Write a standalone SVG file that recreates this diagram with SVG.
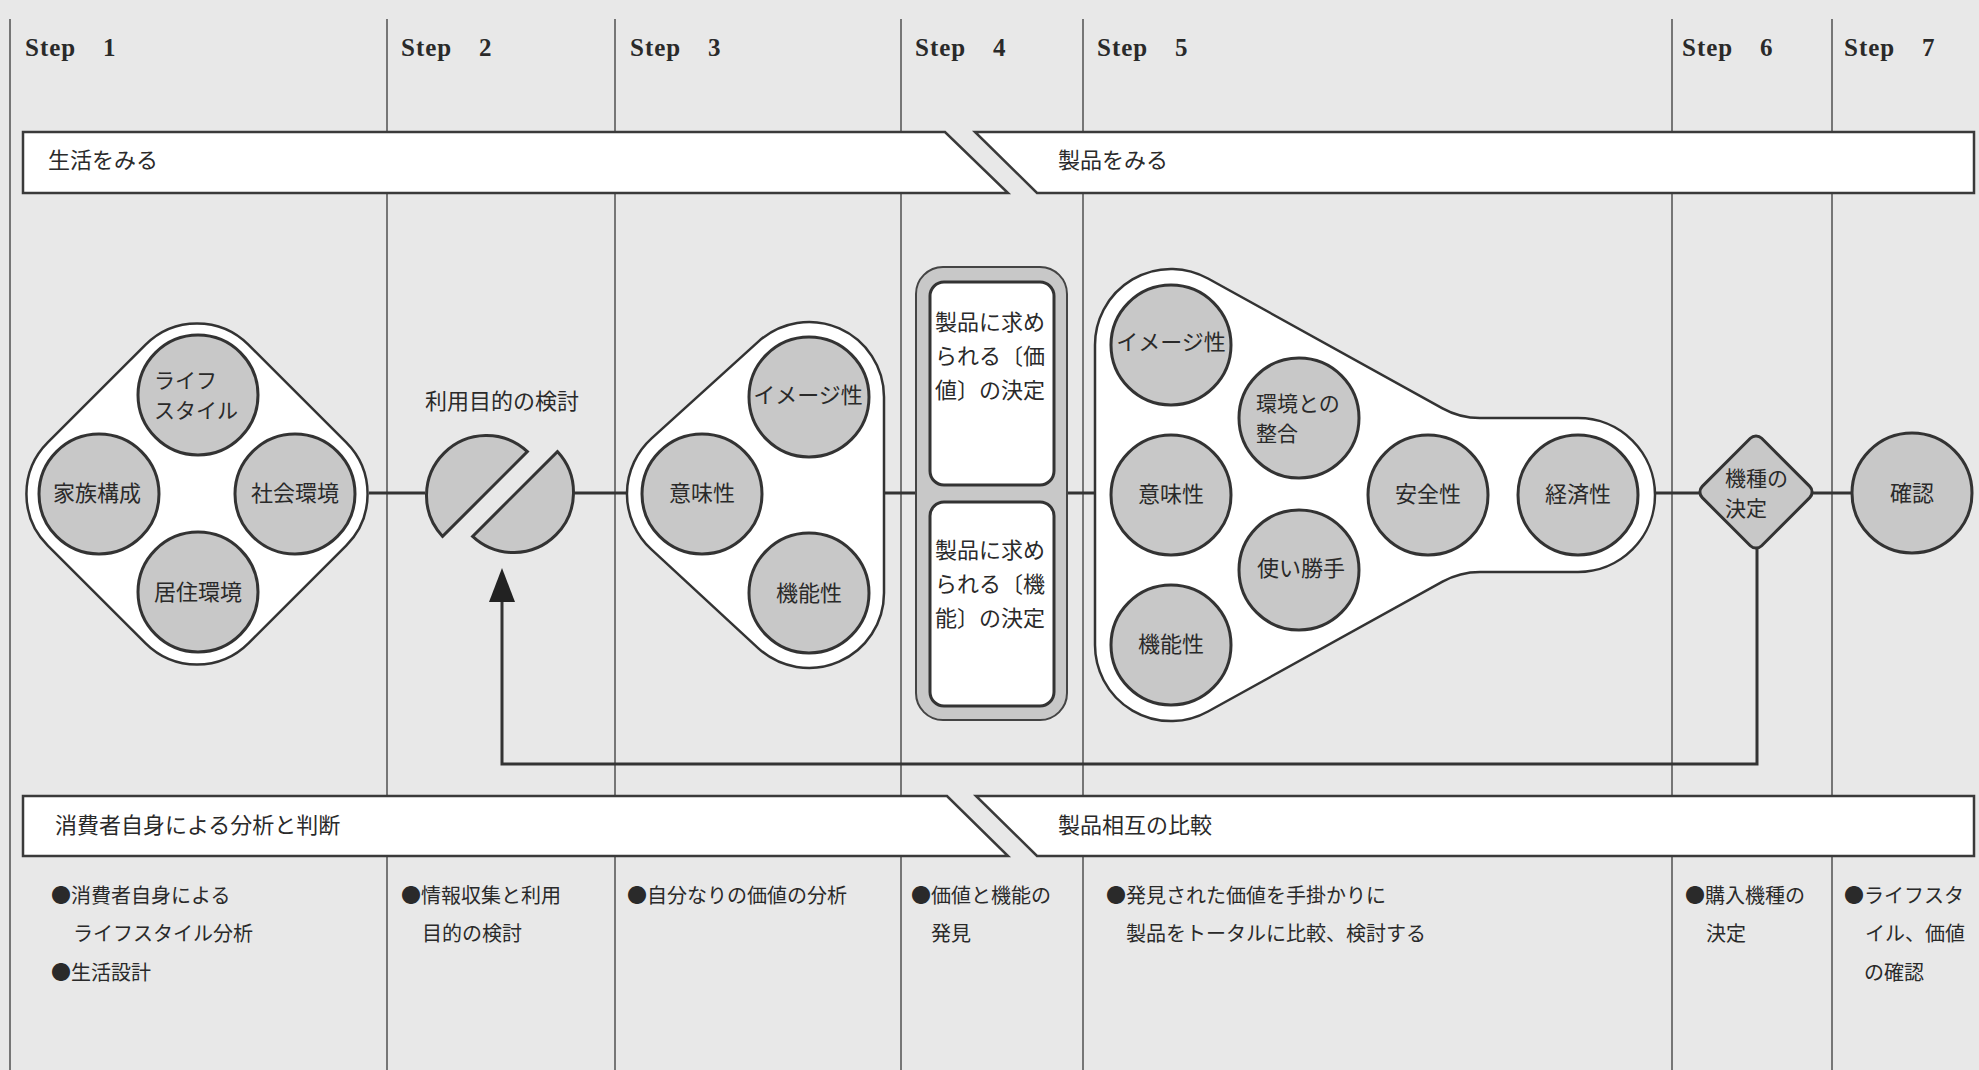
<svg xmlns="http://www.w3.org/2000/svg" width="1979" height="1070" viewBox="0 0 1979 1070">
<style>
.bg{fill:#e8e8e8}
.grid{stroke:#505050;stroke-width:1.5}
.band{fill:#fff;stroke:#3a3a3a;stroke-width:2.5}
.hull{fill:#fff;stroke:#333;stroke-width:2.5}
.c{fill:#c8c8c8;stroke:#333;stroke-width:3}
.t{font-family:'Noto Sans CJK JP','Noto Sans CJK SC',sans-serif;font-size:22px;fill:#2a2a2a}
.s{font-size:21px}
.m{text-anchor:middle}
.b{font-size:20px}
.step{font-family:'Liberation Serif','DejaVu Serif',serif;font-weight:bold;font-size:25px;letter-spacing:1px;fill:#2a2a2a}
.conn{fill:none;stroke:#333;stroke-width:3}
</style>
<defs>
<marker id="ah" markerUnits="userSpaceOnUse" markerWidth="34" markerHeight="26" viewBox="0 0 34 26" refX="0" refY="13" orient="auto">
<path d="M0 0 L34 13 L0 26 Z" fill="#222"/>
</marker>
</defs>
<rect class="bg" x="0" y="0" width="1979" height="1070"/>

<g id="grid">
<line class="grid" x1="10" y1="19" x2="10" y2="1070"/>
<line class="grid" x1="387" y1="19" x2="387" y2="1070"/>
<line class="grid" x1="615" y1="19" x2="615" y2="1070"/>
<line class="grid" x1="901" y1="19" x2="901" y2="1070"/>
<line class="grid" x1="1083" y1="19" x2="1083" y2="1070"/>
<line class="grid" x1="1672" y1="19" x2="1672" y2="1070"/>
<line class="grid" x1="1832" y1="19" x2="1832" y2="1070"/>
</g>

<g id="steps">
<text class="step" x="25" y="56">Step <tspan x="103">1</tspan></text>
<text class="step" x="401" y="56">Step <tspan x="479">2</tspan></text>
<text class="step" x="630" y="56">Step <tspan x="708">3</tspan></text>
<text class="step" x="915" y="56">Step <tspan x="993">4</tspan></text>
<text class="step" x="1097" y="56">Step <tspan x="1175">5</tspan></text>
<text class="step" x="1682" y="56">Step <tspan x="1760">6</tspan></text>
<text class="step" x="1844" y="56">Step <tspan x="1922">7</tspan></text>
</g>

<g id="band-top-life">
<path class="band" d="M23 132 H945 L1008 193 H23 Z"/>
<text class="t" x="48" y="168.4">生活をみる</text>
</g>
<g id="band-top-product">
<path class="band" d="M975 132 H1974 V193 H1037 Z"/>
<text class="t" x="1058" y="168.4">製品をみる</text>
</g>
<g id="band-bottom-self">
<path class="band" d="M23 796 H947 L1008 856 H23 Z"/>
<text class="t" x="55" y="833.4">消費者自身による分析と判断</text>
</g>
<g id="band-bottom-compare">
<path class="band" d="M976 796 H1974 V856 H1037 Z"/>
<text class="t" x="1058" y="833.4">製品相互の比較</text>
</g>

<g id="connectors">
<path class="conn" d="M369 493 H425"/>
<path class="conn" d="M575 493 H628"/>
<path class="conn" d="M884 493 H916"/>
<path class="conn" d="M1067 493 H1095"/>
<path class="conn" d="M1655 493 H1700"/>
<path class="conn" d="M1812 493 H1852"/>
<path class="conn" d="M1757 548 V764 H502 V602" marker-end="url(#ah)"/>
</g>

<g id="step1-life">
<rect class="hull" x="-142" y="-142" width="284" height="284" rx="73" transform="translate(197 494) rotate(45)"/>
<g id="n-lifestyle"><circle class="c" cx="198" cy="395" r="60"/><text class="t s" x="154" y="388">ライフ<tspan x="154" dy="30">スタイル</tspan></text></g>
<g id="n-family"><circle class="c" cx="99" cy="494" r="60"/><text class="t m" x="97" y="501.4">家族構成</text></g>
<g id="n-social"><circle class="c" cx="295" cy="494" r="60"/><text class="t m" x="295" y="501.4">社会環境</text></g>
<g id="n-housing"><circle class="c" cx="198" cy="592" r="60"/><text class="t m" x="198" y="600.4">居住環境</text></g>
</g>

<g id="step2-purpose">
<text class="t m" x="502" y="409.4">利用目的の検討</text>
<path class="c" d="M527.4 451.6 A60 60 0 0 0 442.6 536.4 Z"/>
<path class="c" d="M557.4 451.6 A60 60 0 0 1 472.6 536.4 Z"/>
</g>

<g id="step3-value">
<path class="hull" d="M884 397 A75 75 0 0 0 758.6 341.4 L651.6 438.4 A75 75 0 0 0 651.1 549.1 L758.1 648.1 A75 75 0 0 0 884 593 Z"/>
<g id="n3-image"><circle class="c" cx="809" cy="397" r="60"/><text class="t m" x="808" y="403.4">イメージ性</text></g>
<g id="n3-meaning"><circle class="c" cx="702" cy="494" r="60"/><text class="t m" x="702" y="501.4">意味性</text></g>
<g id="n3-function"><circle class="c" cx="809" cy="593" r="60"/><text class="t m" x="809" y="601.4">機能性</text></g>
</g>

<g id="step4-decide">
<rect x="916" y="267" width="151" height="453" rx="27" fill="#c8c8c8" stroke="#444" stroke-width="2"/>
<g id="n4-value">
<rect x="930" y="282" width="124" height="203" rx="14" fill="#fff" stroke="#333" stroke-width="3"/>
<text class="t" x="935" y="330.4">製品に求め<tspan x="935" dy="34">られる〔価</tspan><tspan x="935" dy="34">値〕の決定</tspan></text>
</g>
<g id="n4-function">
<rect x="930" y="502" width="124" height="204" rx="14" fill="#fff" stroke="#333" stroke-width="3"/>
<text class="t" x="935" y="558.4">製品に求め<tspan x="935" dy="34">られる〔機</tspan><tspan x="935" dy="34">能〕の決定</tspan></text>
</g>
</g>

<g id="step5-compare">
<path class="hull" d="M1095 645 V345 A76 76 0 0 1 1208 278.5 L1442.5 408.3 Q1460 418 1480 418 H1578 A77 77 0 0 1 1578 572 H1480 Q1460 572 1442.5 581.7 L1208 711.5 A76 76 0 0 1 1095 645 Z"/>
<g id="n5-image"><circle class="c" cx="1171" cy="345" r="60"/><text class="t m" x="1171" y="350.4">イメージ性</text></g>
<g id="n5-env"><circle class="c" cx="1299" cy="418" r="60"/><text class="t s" x="1256" y="411">環境との<tspan x="1256" dy="30">整合</tspan></text></g>
<g id="n5-meaning"><circle class="c" cx="1171" cy="495" r="60"/><text class="t m" x="1171" y="502.4">意味性</text></g>
<g id="n5-usability"><circle class="c" cx="1299" cy="570" r="60"/><text class="t m" x="1301" y="576.4">使い勝手</text></g>
<g id="n5-function"><circle class="c" cx="1171" cy="645" r="60"/><text class="t m" x="1171" y="652.4">機能性</text></g>
<g id="n5-safety"><circle class="c" cx="1428" cy="495" r="60"/><text class="t m" x="1428" y="502.4">安全性</text></g>
<g id="n5-economy"><circle class="c" cx="1578" cy="495" r="60"/><text class="t m" x="1578" y="502.4">経済性</text></g>
</g>

<g id="step6-choose">
<rect class="c" x="-42" y="-42" width="84" height="84" rx="8" transform="translate(1756 492) rotate(45)"/>
<text class="t s" x="1725" y="486">機種の<tspan x="1725" dy="30">決定</tspan></text>
</g>

<g id="step7-confirm">
<circle class="c" cx="1912" cy="493" r="60"/>
<text class="t m" x="1912" y="501.4">確認</text>
</g>

<g id="notes">
<text class="t b" x="51" y="902.6">●消費者自身による</text>
<text class="t b" x="73" y="940.6">ライフスタイル分析</text>
<text class="t b" x="51" y="979.6">●生活設計</text>
<text class="t b" x="401" y="902.6">●情報収集と利用</text>
<text class="t b" x="422" y="940.6">目的の検討</text>
<text class="t b" x="627" y="902.6">●自分なりの価値の分析</text>
<text class="t b" x="911" y="902.6">●価値と機能の</text>
<text class="t b" x="931" y="940.6">発見</text>
<text class="t b" x="1106" y="902.6">●発見された価値を手掛かりに</text>
<text class="t b" x="1126" y="940.6">製品をトータルに比較、検討する</text>
<text class="t b" x="1685" y="902.6">●購入機種の</text>
<text class="t b" x="1706" y="940.6">決定</text>
<text class="t b" x="1844" y="902.6">●ライフスタ</text>
<text class="t b" x="1865" y="940.6">イル、価値</text>
<text class="t b" x="1864" y="979.6">の確認</text>
</g>
</svg>
